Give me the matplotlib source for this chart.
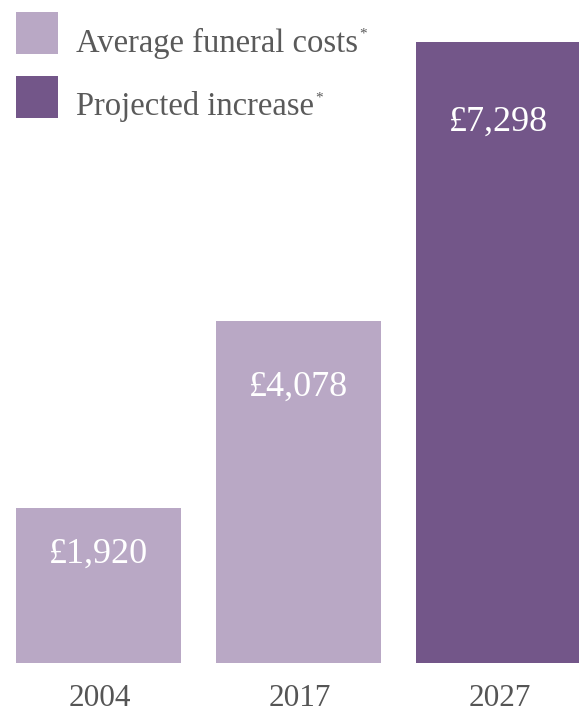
import matplotlib
matplotlib.use("Agg")
import matplotlib.pyplot as plt
from matplotlib.patches import Rectangle

years = ["2004", "2017", "2027"]
costs = [1920, 4078, 7298]
value_labels = ["£1,920", "£4,078", "£7,298"]
legend_labels = ["Average funeral costs", "Projected increase"]

light = "#b9a8c5"
dark = "#735689"
bar_colors = [light, light, dark]
label_drop_px = [46, 66, 80]

W, H = 579, 711
fig = plt.figure(figsize=(W / 100, H / 100), dpi=100)
plt.rcParams['font.family'] = ['Liberation Serif', 'DejaVu Serif']

ax = fig.add_axes([0, (H - 663) / H, 1, 663 / H])
xs = list(range(len(years)))
ax.bar(xs, costs, width=0.825, color=bar_colors, zorder=2)
ax.set_xlim(-98.5 / 200, (579 - 98.5) / 200)
scale = 0.08665
ymin = 131
ax.set_ylim(ymin, ymin + 663 / scale)
ax.axis("off")

for x, v, lab, d in zip(xs, costs, value_labels, label_drop_px):
    ax.annotate(lab, (x, v), xytext=(0, -d * 0.72), textcoords="offset points",
                ha="center", va="center", color="white", fontsize=26)

for x, y in zip(xs, years):
    fig.text((100 + 200 * x) / W, 1 - 698 / H, y, ha="center", va="center",
             color="#555555", fontsize=22.5)

# legend
sq_y = [12, 76]
for (yy, col, lab) in zip(sq_y, [light, dark], legend_labels):
    fig.add_artist(Rectangle((16 / W, 1 - (yy + 42) / H), 42 / W, 42 / H,
                             transform=fig.transFigure, color=col, lw=0))
    t = fig.text(76 / W, 1 - (yy + 31) / H, lab, ha="left", va="center",
                 color="#5a5a5a", fontsize=23.5)
    fig.canvas.draw()
    bb = t.get_window_extent()
    fig.text((bb.x1 + 1) / W, 1 - (yy + 22) / H, "*", ha="left", va="center",
             color="#5a5a5a", fontsize=11)

fig.savefig("out.png", dpi=100)
